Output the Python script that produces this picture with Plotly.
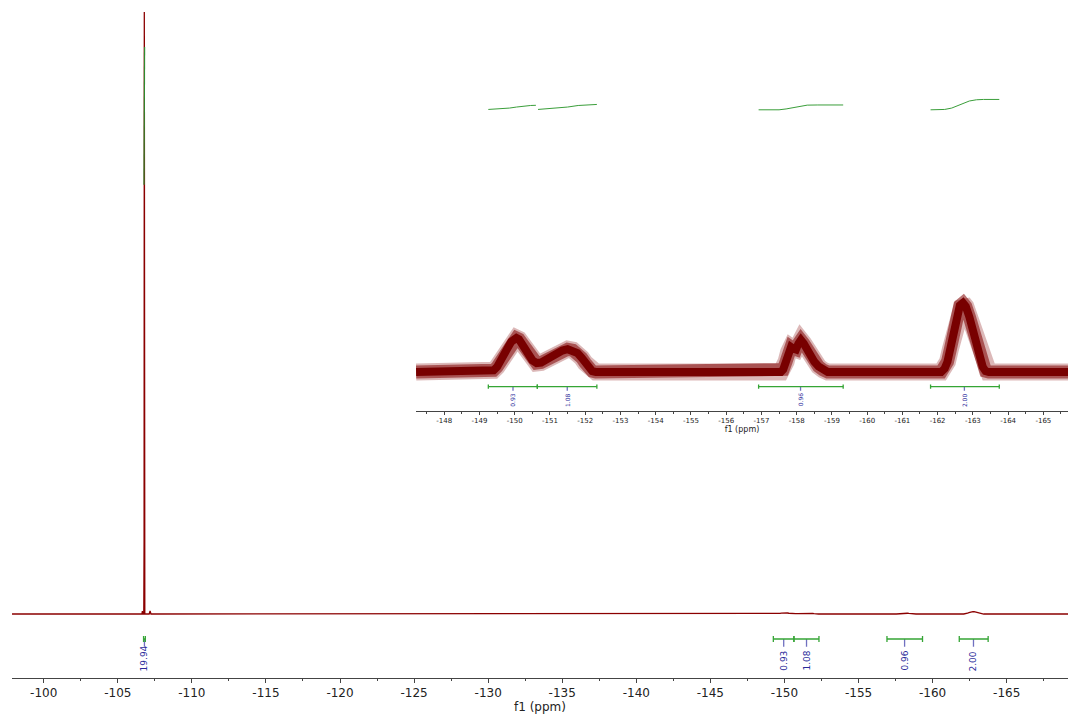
import plotly.graph_objects as go

# ---------------- data ----------------
# main 19F spectrum, intensity in % of the tallest peak
main_ppm = [-97.86, -106.55, -106.63, -106.66, -106.69, -106.755, -106.775,
            -106.79, -106.805, -106.825, -107.12, -107.18, -107.24]
main_int = [0.0, 0.0, 0.0, 0.5, 0.0, 0.0, 12.0, 100.0, 12.0, 0.0, 0.0, 0.5, 0.0]

# weak multiplets region (-147 .. -166 ppm), same intensity units
region_ppm = [-147.20, -149.29, -149.40, -149.50, -149.60, -149.70, -149.80,
              -149.90, -149.98, -150.05, -150.12, -150.20, -150.30, -150.40,
              -150.50, -150.62, -150.75, -150.90, -151.05, -151.20, -151.35,
              -151.50, -151.65, -151.78, -151.90, -152.00, -152.10, -152.20,
              -152.30,
              -157.55, -157.62, -157.70, -157.77, -157.84, -157.91, -157.98,
              -158.05, -158.12, -158.20, -158.30, -158.40, -158.50, -158.62,
              -158.75, -158.88,
              -162.10, -162.20, -162.28, -162.36, -162.45, -162.55, -162.63,
              -162.72, -162.80, -162.90, -163.00, -163.10, -163.20, -163.28,
              -163.36, -163.45,
              -165.70]
region_int = [0.0, 0.0, 0.010, 0.030, 0.060, 0.098, 0.140,
              0.175, 0.193, 0.197, 0.190, 0.165, 0.128, 0.095,
              0.068, 0.052, 0.055, 0.072, 0.092, 0.110, 0.124,
              0.132, 0.126, 0.110, 0.082, 0.052, 0.022, 0.005,
              0.0,
              0.0, 0.015, 0.060, 0.115, 0.145, 0.135, 0.130,
              0.165, 0.186, 0.165, 0.125, 0.090, 0.060, 0.032,
              0.012, 0.0,
              0.0, 0.020, 0.060, 0.130, 0.230, 0.330, 0.385,
              0.400, 0.380, 0.320, 0.240, 0.160, 0.080, 0.030,
              0.005, 0.0,
              0.0]
tail_ppm = [-169.30]
tail_int = [0.0]

# axis ticks
main_tick_vals = [-100, -105, -110, -115, -120, -125, -130, -135, -140,
                  -145, -150, -155, -160, -165]
main_tick_text = ["-100", "-105", "-110", "-115", "-120", "-125", "-130",
                  "-135", "-140", "-145", "-150", "-155", "-160", "-165"]
inset_tick_vals = [-148, -149, -150, -151, -152, -153, -154, -155, -156,
                   -157, -158, -159, -160, -161, -162, -163, -164, -165]
inset_tick_text = ["-148", "-149", "-150", "-151", "-152", "-153", "-154",
                   "-155", "-156", "-157", "-158", "-159", "-160", "-161",
                   "-162", "-163", "-164", "-165"]

# integrals
int_start = [-106.74, -149.25, -150.64, -156.92, -161.80]
int_end = [-106.86, -150.64, -152.33, -159.32, -163.75]
int_center = [-106.80, -149.95, -151.49, -158.11, -162.76]
int_value = ["19.94", "0.93", "1.08", "0.96", "2.00"]

# integral curves
main_icurve_ppm = [-106.77, -106.79, -106.81]
main_icurve_val = [71.3, 82.0, 94.2]
icurve_ppm = [
    [-149.25, -149.60, -149.85, -150.05, -150.25, -150.45, -150.60],
    [-150.66, -150.90, -151.20, -151.50, -151.80, -152.10, -152.33],
    [-156.92, -157.50, -157.70, -157.90, -158.10, -158.30, -158.60, -159.32],
    [-161.80, -162.20, -162.40, -162.60, -162.75, -162.90, -163.10, -163.30, -163.75],
]
icurve_val = [
    [1.522, 1.525, 1.530, 1.536, 1.542, 1.545, 1.546],
    [1.522, 1.525, 1.530, 1.536, 1.545, 1.550, 1.551],
    [1.520, 1.520, 1.525, 1.533, 1.542, 1.547, 1.548, 1.548],
    [1.520, 1.522, 1.530, 1.548, 1.559, 1.571, 1.578, 1.580, 1.580],
]

# ---------------- styling constants ----------------
FONT = "DejaVu Sans"
RED = "#8B0000"
GREEN = "#35a535"
BLUE_TXT = "#2a2a9a"
BLUE_TICK = "#7070c0"
AXIS = "#444444"

INSET_RANGE = (-147.197, -165.70)

fig = go.Figure()

# main spectrum
fig.add_trace(go.Scatter(
    x=main_ppm + region_ppm + tail_ppm, y=main_int + region_int + tail_int,
    mode="lines", line=dict(color=RED, width=1.3), xaxis="x", yaxis="y",
    hoverinfo="skip", showlegend=False))

# main integral curve over the big peak
fig.add_trace(go.Scatter(
    x=main_icurve_ppm, y=main_icurve_val, mode="lines",
    line=dict(color="#2e8b2e", width=1.2), xaxis="x", yaxis="y",
    hoverinfo="skip", showlegend=False))

# inset spectrum (noise band drawn as layered thick lines)
for w, col in [(17, "rgba(128,0,0,0.28)"), (13, "rgba(128,0,0,0.55)"),
               (8, "#780000")]:
    fig.add_trace(go.Scatter(
        x=region_ppm, y=region_int, mode="lines",
        line=dict(color=col, width=w), xaxis="x2", yaxis="y2",
        hoverinfo="skip", showlegend=False))

# inset integral curves
for px, pv in zip(icurve_ppm, icurve_val):
    fig.add_trace(go.Scatter(
        x=px, y=pv, mode="lines", line=dict(color="#3a9e3a", width=1),
        xaxis="x2", yaxis="y2", hoverinfo="skip", showlegend=False))


def integral_marks(xa, ya, bar_y, end_h, tick_len, label_y, fsize, keep):
    gx, gy, bx, by = [], [], [], []
    for s, e, c, v in zip(int_start, int_end, int_center, int_value):
        if not keep(c):
            continue
        gx += [s, e, None, s, s, None, e, e, None]
        gy += [bar_y, bar_y, None, bar_y - end_h, bar_y + end_h, None,
               bar_y - end_h, bar_y + end_h, None]
        bx += [c, c, None]
        by += [bar_y, bar_y - tick_len, None]
        fig.add_annotation(
            x=c, y=label_y, xref=xa, yref=ya.replace("axis", ""), text=v,
            textangle=-90, showarrow=False, yanchor="bottom", xanchor="center",
            borderpad=0, font=dict(family=FONT, size=fsize, color=BLUE_TXT))
    fig.add_trace(go.Scatter(x=bx, y=by, mode="lines",
                             line=dict(color=BLUE_TICK, width=1.3),
                             xaxis=xa, yaxis=ya, hoverinfo="skip", showlegend=False))
    fig.add_trace(go.Scatter(x=gx, y=gy, mode="lines",
                             line=dict(color=GREEN, width=1.3),
                             xaxis=xa, yaxis=ya, hoverinfo="skip", showlegend=False))


# main axis integrals (units: 1 unit ~ 6.02 px)
integral_marks("x", "y", -4.15, 0.5, 1.3, -9.63, 9, lambda c: True)
# inset integrals (units: 1 unit ~ 172.5 px)
integral_marks("x2", "y2", -0.085, 0.012, 0.024, -0.207, 6,
               lambda c: INSET_RANGE[1] < c < INSET_RANGE[0])

fig.update_layout(
    width=1068, height=717, margin=dict(l=0, r=0, t=0, b=0),
    paper_bgcolor="white", plot_bgcolor="rgba(0,0,0,0)",
    showlegend=False,
    font=dict(family=FONT, color="#222222"),
    xaxis=dict(
        domain=[0.01124, 1], range=[-97.86, -169.14], anchor="y",
        showline=True, linecolor=AXIS, linewidth=1, showgrid=False, zeroline=False,
        ticks="outside", ticklen=4, tickcolor=AXIS, tickwidth=1,
        tickmode="array", tickvals=main_tick_vals, ticktext=main_tick_text,
        tickfont=dict(family=FONT, size=12, color="#222222"),
        minor=dict(ticks="outside", ticklen=2, tickcolor=AXIS, tickmode="linear",
                   dtick=2.5, tick0=-97.5, showgrid=False),
        title=dict(text="f1 (ppm)", font=dict(family=FONT, size=12, color="#222222"),
                   standoff=2),
    ),
    yaxis=dict(domain=[0.0548, 1], range=[-10.58, 101.99], visible=False),
    xaxis2=dict(
        domain=[0.3895, 1], range=list(INSET_RANGE), anchor="y2",
        showline=True, linecolor=AXIS, linewidth=1, showgrid=False, zeroline=False,
        ticks="outside", ticklen=3, tickcolor=AXIS, tickwidth=1,
        tickmode="array", tickvals=inset_tick_vals, ticktext=inset_tick_text,
        tickfont=dict(family=FONT, size=7, color="#222222"),
        minor=dict(ticks="outside", ticklen=2, tickcolor=AXIS, tickmode="linear",
                   dtick=0.5, tick0=-147.5, showgrid=False),
        title=dict(text="f1 (ppm)", font=dict(family=FONT, size=8, color="#222222"),
                   standoff=1),
    ),
    yaxis2=dict(domain=[0.4272, 1], range=[-0.2243, 2.1565], visible=False),
)

fig.write_html("out.html")
